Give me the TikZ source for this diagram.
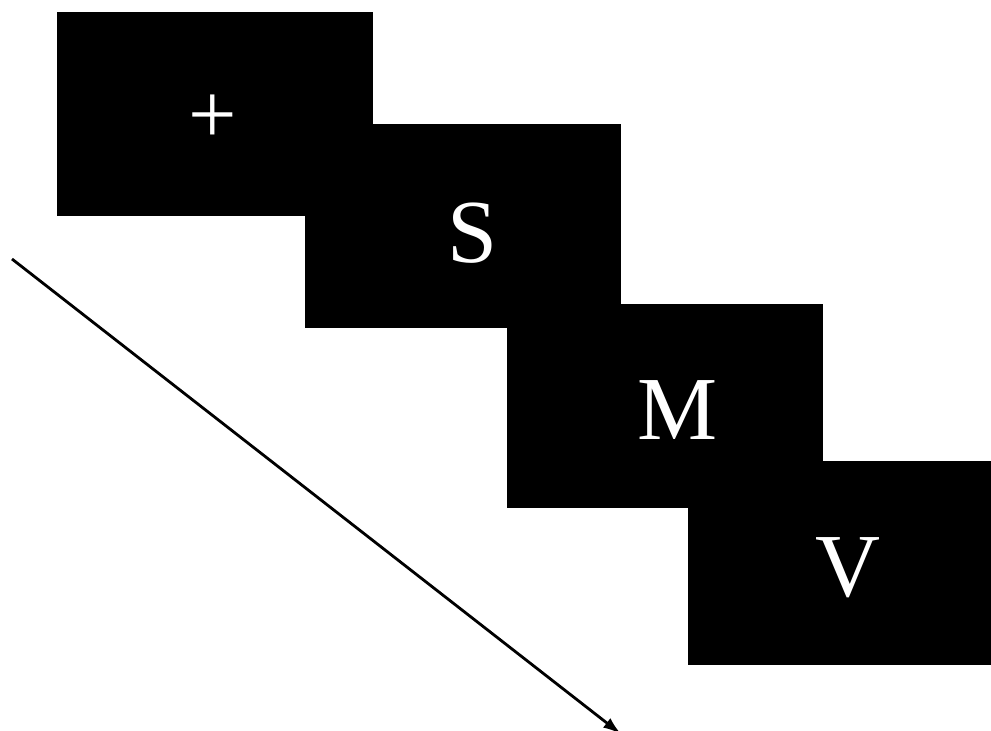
\documentclass[tikz,border=0pt]{standalone}
\usepackage{fontspec}
\setmainfont{Liberation Serif}
\usetikzlibrary{arrows.meta,positioning}

\begin{document}
\begin{tikzpicture}[
  x=1pt,y=-1pt,
  screen/.style={fill=black,draw=none,inner sep=0pt,minimum width=316pt,minimum height=204pt},
  letter/.style={text=white,anchor=base,inner sep=0pt,font=\fontsize{90}{90}\selectfont},
  arrow/.style={-{Latex[length=18pt,width=12pt]},line width=2.8pt,draw=black}
]
\useasboundingbox (0,0) rectangle (991,731);
% stimulus screens
\node[screen] (fix) at (215,114) {};
\node[screen] (scrS) at (462.5,226) {};
\node[screen] (scrM) at (665,406) {};
\node[screen] (scrV) at (846,563) {};
\node[letter,font=\fontsize{86}{86}\selectfont] (plus) at (213,143) {+};
\node[letter] (labS) at (473,262) {S};
\node[letter] (labM) at (678,439) {M};
\node[letter] (labV) at (848,596) {V};
% time axis
\coordinate (tstart) at (12,259);
\coordinate (tend) at (621,734);
\draw[arrow] (tstart) -- (tend);
\end{tikzpicture}
\end{document}
